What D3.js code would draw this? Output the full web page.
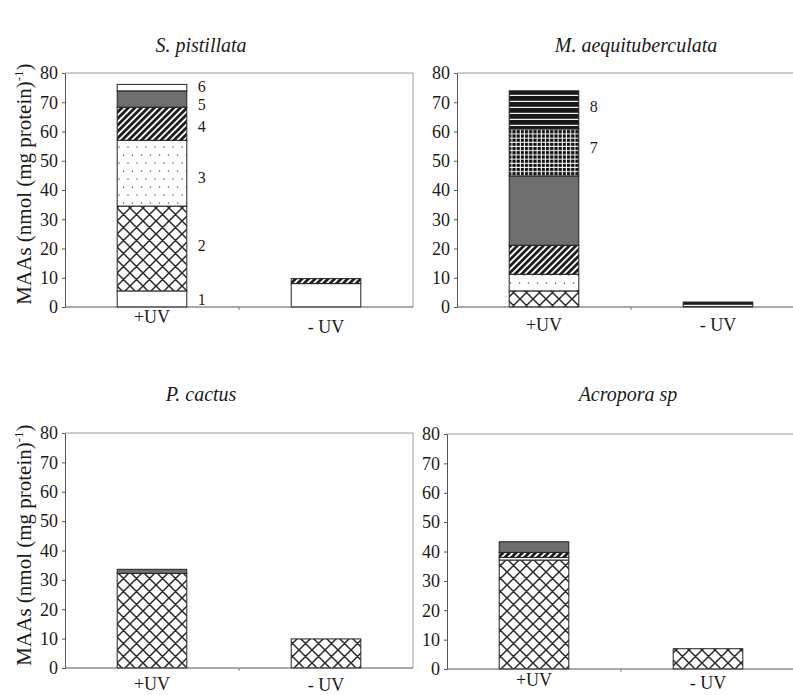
<!DOCTYPE html>
<html><head><meta charset="utf-8">
<script src="https://cdn.jsdelivr.net/npm/d3@7/dist/d3.min.js"></script>
<style>body{margin:0;background:#fff}svg{display:block}</style>
</head><body>
<svg id="c" width="793" height="695"></svg>
<script>
// ---------- data ----------
const categories = ["+UV", "- UV"];
const components = ["1", "2", "3", "4", "5", "6", "7", "8"];
const yTicks = [0, 10, 20, 30, 40, 50, 60, 70, 80];
const titles = ["S. pistillata", "M. aequituberculata", "P. cactus", "Acropora sp"];
const yLabelMain = "MAAs (nmol (mg protein)";
const yLabelSup = "-1";

// values per component 1..8, nmol (mg protein)^-1
const sPistillataPlus  = [5.5, 29.0, 22.5, 11.3, 5.6, 2.2, 0, 0];
const sPistillataMinus = [8.0, 0, 0, 1.7, 0, 0, 0, 0];
const mAequPlus        = [0, 5.5, 5.7, 9.9, 23.7, 0, 16.1, 13.0];
const mAequMinus       = [0, 0, 0, 0, 0, 0, 0, 1.7];
const pCactusPlus      = [0, 32.2, 0, 0, 1.4, 0, 0, 0];
const pCactusMinus     = [0, 9.9, 0, 0, 0, 0, 0, 0];
const acroporaPlus     = [0, 37.1, 0.9, 1.7, 3.6, 0, 0, 0];
const acroporaMinus    = [0, 6.9, 0, 0, 0, 0, 0, 0];

const sPistillataLabels = ["1", "2", "3", "4", "5", "6"];
const mAequLabels = ["7", "8"];

// ---------- layout ----------
const plotW = 348;
const layout = [
  {x0: 65, top: 73, bottom: 307, titleX: 201, titleY: 52, yLab: {y: 184, len: 258}, xLabY: [323, 333]},
  {x0: 457, top: 73, bottom: 307, titleX: 636, titleY: 52, xLabY: [331, 331]},
  {x0: 65, top: 433, bottom: 668, titleX: 201, titleY: 401, yLab: {y: 545, len: 246}, xLabY: [690, 691]},
  {x0: 447, top: 434, bottom: 669, titleX: 628, titleY: 401, xLabY: [686, 689]}
];
const labelDy = {"1": 0, "2": -3, "3": 4, "4": 3, "5": 5, "6": -1, "7": -5, "8": -3};

const panels = [
  {values: [sPistillataPlus, sPistillataMinus], labels: sPistillataLabels},
  {values: [mAequPlus, mAequMinus], labels: mAequLabels},
  {values: [pCactusPlus, pCactusMinus], labels: []},
  {values: [acroporaPlus, acroporaMinus], labels: []}
];

const FONT = "'Liberation Serif','Times New Roman',serif";
const svg = d3.select("#c");
svg.append("rect").attr("width", 793).attr("height", 695).attr("fill", "#fff");
const defs = svg.append("defs");

function pattern(id, w, h, tf) {
  const p = defs.append("pattern").attr("id", id).attr("patternUnits", "userSpaceOnUse")
    .attr("width", w).attr("height", h);
  if (tf) p.attr("patternTransform", tf);
  return p;
}
// 2: diamond cross-hatch
{
  const p = pattern("p2", 13, 13);
  p.append("rect").attr("width", 13).attr("height", 13).attr("fill", "#fff");
  let d = "";
  for (const k of [-13, 0, 13]) d += `M${k},0L${k + 13},13M${k + 13},0L${k},13`;
  p.append("path").attr("d", d).attr("stroke", "#2a2a2a").attr("stroke-width", 1.5).attr("fill", "none");
}
// 3: sparse dots
{
  const p = pattern("p3", 9, 16);
  p.append("rect").attr("width", 9).attr("height", 16).attr("fill", "#fff");
  p.append("circle").attr("cx", 2).attr("cy", 3).attr("r", 0.75).attr("fill", "#555");
  p.append("circle").attr("cx", 6.5).attr("cy", 11).attr("r", 0.75).attr("fill", "#555");
}
// 4: dark diagonal stripes
{
  const p = pattern("p4", 4.6, 4.6, "rotate(45)");
  p.append("rect").attr("width", 4.6).attr("height", 4.6).attr("fill", "#fff");
  p.append("rect").attr("width", 2.8).attr("height", 4.6).attr("fill", "#1e1e1e");
}
// 7: dark grid with white lines
{
  const p = pattern("p7", 4.2, 4.2);
  p.append("rect").attr("width", 4.2).attr("height", 4.2).attr("fill", "#111");
  p.append("rect").attr("x", 3.2).attr("width", 1).attr("height", 4.2).attr("fill", "#fff");
  p.append("rect").attr("y", 3.2).attr("width", 4.2).attr("height", 1).attr("fill", "#fff");
}
// 8: dark horizontal stripes
{
  const p = pattern("p8", 4, 6);
  p.append("rect").attr("width", 4).attr("height", 6).attr("fill", "#f4f4f4");
  p.append("rect").attr("width", 4).attr("height", 4.8).attr("fill", "#1a1a1a");
}
const fills = ["#fff", "url(#p2)", "url(#p3)", "url(#p4)", "#6e6e6e", "#fff", "url(#p7)", "url(#p8)"];

panels.forEach((pan, i) => {
  const L = layout[i];
  const g = svg.append("g");
  const x = d3.scaleBand().domain(categories).range([L.x0, L.x0 + plotW]);
  const y = d3.scaleLinear().domain([0, 80]).range([L.bottom, L.top]);
  const bw = x.bandwidth() * 0.4;

  // plot frame (top & right)
  g.append("path").attr("d", `M${L.x0},${y(80)}H${L.x0 + plotW}V${y(0)}`)
    .attr("fill", "none").attr("stroke", "#9a9a9a").attr("stroke-width", 1);

  // bars
  categories.forEach((c, ci) => {
    const vals = pan.values[ci];
    const cx = x(c) + x.bandwidth() / 2;
    let cum = 0;
    vals.forEach((v, k) => {
      if (v <= 0) return;
      const y0 = cum, y1 = cum + v;
      cum = y1;
      g.append("rect")
        .attr("x", cx - bw / 2).attr("width", bw)
        .attr("y", y(y1)).attr("height", y(y0) - y(y1))
        .attr("fill", fills[k]).attr("stroke", "#222").attr("stroke-width", 1);
      if (ci === 0 && pan.labels.includes(components[k])) {
        g.append("text").attr("x", cx + bw / 2 + 15).attr("y", y((y0 + y1) / 2) + labelDy[components[k]])
          .attr("dy", "0.35em").attr("text-anchor", "middle")
          .attr("font-family", FONT).attr("font-size", 16).attr("fill", "#1a1a1a")
          .text(components[k]);
      }
    });
  });

  // y axis
  const ya = g.append("g").attr("transform", `translate(${L.x0},0)`)
    .call(d3.axisLeft(y).tickValues(yTicks).tickSize(3).tickPadding(4).tickSizeOuter(0));
  ya.select(".domain").attr("stroke", "#555");
  ya.selectAll(".tick line").attr("stroke", "#555");
  ya.selectAll("text").attr("font-family", FONT).attr("font-size", 18).attr("fill", "#1a1a1a");

  // x axis line + category divider tick
  g.append("line").attr("x1", L.x0).attr("x2", L.x0 + plotW).attr("y1", y(0)).attr("y2", y(0))
    .attr("stroke", "#555");
  g.append("line").attr("x1", x(categories[1])).attr("x2", x(categories[1]))
    .attr("y1", y(0)).attr("y2", y(0) + 3).attr("stroke", "#777");
  categories.forEach((c, ci) => {
    g.append("text").attr("x", x(c) + x.bandwidth() / 2).attr("y", L.xLabY[ci])
      .attr("text-anchor", "middle").attr("font-family", FONT).attr("font-size", 18)
      .attr("fill", "#1a1a1a").text(c);
  });

  // title
  g.append("text").attr("x", L.titleX).attr("y", L.titleY).attr("text-anchor", "middle")
    .attr("font-family", FONT).attr("font-style", "italic").attr("font-size", 20)
    .attr("fill", "#1a1a1a").text(titles[i]);

  // y label
  if (L.yLab) {
    const t = g.append("text").attr("transform", `translate(31,${L.yLab.y}) rotate(-90)`)
      .attr("text-anchor", "middle").attr("font-family", FONT).attr("font-size", 21)
      .attr("fill", "#1a1a1a");
    t.append("tspan").text(yLabelMain);
    t.append("tspan").attr("font-size", 13).attr("dy", -8).text(yLabelSup);
    t.append("tspan").attr("dy", 8).text(")");
  }
});
</script>
</body></html>
